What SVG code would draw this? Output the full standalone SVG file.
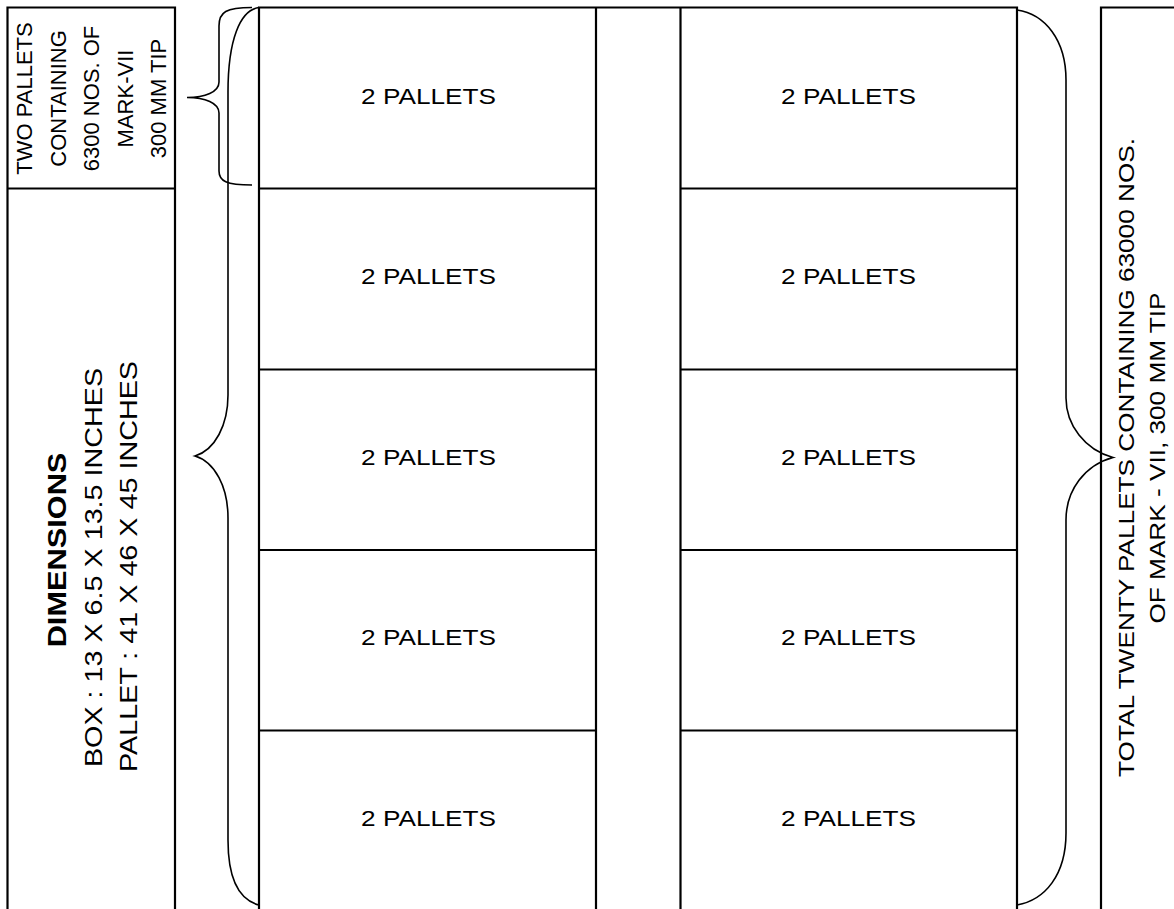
<svg xmlns="http://www.w3.org/2000/svg" width="1174" height="909" viewBox="0 0 1174 909">
<style>
.ln{stroke:#000;stroke-width:2.2;fill:none}
.br{stroke:#000;stroke-width:1.6;fill:none}
text{font-family:"Liberation Sans",Arial,sans-serif;fill:#000;text-anchor:middle}
.s{font-size:22px}
.c{font-size:22px}
.b{font-size:25px;font-weight:bold}
.d{font-size:23px}
</style>
<rect width="1174" height="909" fill="#fff"/>
<g id="left-box-top">
<path class="ln" d="M7.5,909 V7.5 H175 V909 M7.5,188.5 H175"/>
<g transform="rotate(-90)">
<text class="s" x="-98.5" y="32">TWO PALLETS</text>
<text class="s" x="-98.5" y="65.5">CONTAINING</text>
<text class="s" x="-98.5" y="99">6300 NOS. OF</text>
<text class="s" x="-98.5" y="132.5">MARK-VII</text>
<text class="s" x="-98.5" y="166">300 MM TIP</text>
</g>
</g>
<g id="left-box-dimensions">
<text class="b" transform="translate(66,550) rotate(-90) scale(1.23,1)">DIMENSIONS</text>
<text class="d" transform="translate(102,567.5) rotate(-90) scale(1.25,1)">BOX : 13 X 6.5 X 13.5 INCHES</text>
<text class="d" transform="translate(137,566.5) rotate(-90) scale(1.25,1)">PALLET : 41 X 46 X 45 INCHES</text>
</g>
<g id="grid">
<path class="ln" d="M259,909 V7.5 H1017 V909 M596,7.5 V909 M680.5,7.5 V909"/>
<path class="ln" d="M259,188.5 H596 M259,369.5 H596 M259,550 H596 M259,730.5 H596"/>
<path class="ln" d="M680.5,188.5 H1017 M680.5,369.5 H1017 M680.5,550 H1017 M680.5,730.5 H1017"/>
</g>
<g id="col1">
<text class="c" transform="translate(428.5,103.5) scale(1.19,1)">2 PALLETS</text>
<text class="c" transform="translate(428.5,284) scale(1.19,1)">2 PALLETS</text>
<text class="c" transform="translate(428.5,464.5) scale(1.19,1)">2 PALLETS</text>
<text class="c" transform="translate(428.5,645) scale(1.19,1)">2 PALLETS</text>
<text class="c" transform="translate(428.5,825.5) scale(1.19,1)">2 PALLETS</text>
</g>
<g id="col2">
<text class="c" transform="translate(848.5,103.5) scale(1.19,1)">2 PALLETS</text>
<text class="c" transform="translate(848.5,284) scale(1.19,1)">2 PALLETS</text>
<text class="c" transform="translate(848.5,464.5) scale(1.19,1)">2 PALLETS</text>
<text class="c" transform="translate(848.5,645) scale(1.19,1)">2 PALLETS</text>
<text class="c" transform="translate(848.5,825.5) scale(1.19,1)">2 PALLETS</text>
</g>
<g id="braces">
<path class="br" d="M252,7.5 C226,7.5 219,12 219,26 L219,82 C219,92 205,97.5 187,97.5 C205,97.5 219,103 219,113 L219,171 C219,181 226,185 252,185"/>
<path class="br" d="M259,7.5 C240,10 228,40 228,92 L228,395 C228,425 215,450 195,456 C215,462 228,487 228,518 L228,840 C228,880 240,900 259,905"/>
<path class="br" d="M1017,10 C1045,14 1066,40 1066,80 L1066,398 C1066,425 1085,450 1113,457.5 C1085,465 1066,490 1066,520 L1066,833 C1066,875 1045,900 1017,905"/>
</g>
<g id="right-box">
<path class="ln" d="M1101,909 V7.5 H1174"/>
<text class="c" transform="translate(1133.5,457.5) rotate(-90) scale(1.19,1)">TOTAL TWENTY PALLETS CONTAINING 63000 NOS.</text>
<text class="c" transform="translate(1165,458) rotate(-90) scale(1.19,1)">OF MARK - VII, 300 MM TIP</text>
</g>
</svg>
